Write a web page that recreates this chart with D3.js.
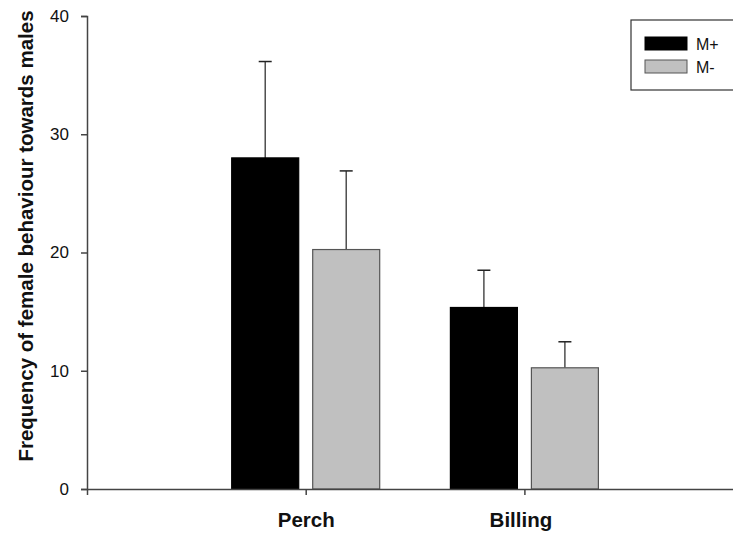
<!DOCTYPE html>
<html>
<head>
<meta charset="utf-8">
<script src="https://cdn.jsdelivr.net/npm/d3@7"></script>
<style>
  body { margin: 0; background: #fff; }
  svg { display: block; font-family: Arial, "Liberation Sans", sans-serif; }
</style>
</head>
<body>
<div id="chart"></div>
<script>
// data
var categories = ["Perch", "Billing"];
var seriesNames = ["M+", "M-"];
var seriesColors = ["#000000", "#c0c0c0"];
var seriesStroke = ["#000000", "#555555"];
var meansMplus = [28.0, 15.35];
var meansMminus = [20.25, 10.25];
var errMplus = [8.15, 3.15];
var errMminus = [6.65, 2.2];
var yTicks = [0, 10, 20, 30, 40];

var width = 733, height = 536;
var margin = {top: 16, left: 87, bottom: 47};
var fontFam = "Arial, 'Liberation Sans', sans-serif";

var svg = d3.select("#chart").append("svg")
    .attr("width", width)
    .attr("height", height);

var yScale = d3.scaleLinear()
    .domain([0, 40])
    .range([height - margin.bottom, margin.top]);

// category positions sit at 1 and 2 on a linear axis that starts at 0
var xScale = d3.scaleLinear()
    .domain([0, 3])
    .range([margin.left, margin.left + 3 * 218.7]);

var barWidth = 67;
var barGap = 14;

var series = [
    {name: seriesNames[0], values: meansMplus, errs: errMplus, fill: seriesColors[0], stroke: seriesStroke[0]},
    {name: seriesNames[1], values: meansMminus, errs: errMminus, fill: seriesColors[1], stroke: seriesStroke[1]}
];

function barLeft(i, s) {
    var c = xScale(i + 1);
    return s === 0 ? c - barGap / 2 - barWidth : c + barGap / 2;
}

var barsGroup = svg.append("g");
series.forEach(function(ser, s) {
    // error bars (upper only)
    var eg = barsGroup.append("g");
    eg.selectAll("line.stem").data(ser.values).enter()
        .append("line")
        .attr("x1", function(d, i) { return barLeft(i, s) + barWidth / 2; })
        .attr("x2", function(d, i) { return barLeft(i, s) + barWidth / 2; })
        .attr("y1", function(d) { return yScale(d); })
        .attr("y2", function(d, i) { return yScale(d + ser.errs[i]); })
        .attr("stroke", "#333")
        .attr("stroke-width", 1.3);
    eg.selectAll("line.cap").data(ser.values).enter()
        .append("line")
        .attr("x1", function(d, i) { return barLeft(i, s) + barWidth / 2 - 6.5; })
        .attr("x2", function(d, i) { return barLeft(i, s) + barWidth / 2 + 6.5; })
        .attr("y1", function(d, i) { return yScale(d + ser.errs[i]); })
        .attr("y2", function(d, i) { return yScale(d + ser.errs[i]); })
        .attr("stroke", "#222")
        .attr("stroke-width", 1.5);

    barsGroup.append("g").selectAll("rect").data(ser.values).enter()
        .append("rect")
        .attr("x", function(d, i) { return barLeft(i, s); })
        .attr("y", function(d) { return yScale(d); })
        .attr("width", barWidth)
        .attr("height", function(d) { return yScale(0) - yScale(d); })
        .attr("fill", ser.fill)
        .attr("stroke", ser.stroke)
        .attr("stroke-width", 1.2);
});

// y axis
var yAxis = svg.append("g")
    .attr("transform", "translate(" + margin.left + ",0)")
    .call(d3.axisLeft(yScale).tickValues(yTicks).tickSize(6).tickPadding(12).tickFormat(d3.format("d")));
yAxis.selectAll("text")
    .attr("font-size", 17)
    .attr("fill", "#111")
    .attr("font-family", fontFam);

// x axis
var xAxis = svg.append("g")
    .attr("transform", "translate(0," + yScale(0) + ")")
    .call(d3.axisBottom(xScale).tickValues([0, 1, 2]).tickSize(6).tickSizeOuter(0)
        .tickFormat(function(d) { return d === 0 ? "" : categories[d - 1]; }));
xAxis.selectAll("text")
    .attr("font-size", 20.5)
    .attr("font-weight", "bold")
    .attr("fill", "#111")
    .attr("font-family", fontFam)
    .attr("dy", 0)
    .attr("y", 38);
xAxis.selectAll(".tick").filter(function(d) { return d === 2; })
    .select("text").attr("x", -4);

svg.selectAll(".domain, .tick line").attr("stroke", "#444").attr("stroke-width", 1.5);

// y axis title
svg.append("text")
    .attr("transform", "translate(33,236) rotate(-90)")
    .attr("text-anchor", "middle")
    .attr("font-size", 20.5)
    .attr("font-weight", "bold")
    .attr("fill", "#111")
    .attr("font-family", fontFam)
    .text("Frequency of female behaviour towards males");

// legend
var legend = svg.append("g").attr("transform", "translate(631,20)");
legend.append("rect")
    .attr("x", 0).attr("y", 0)
    .attr("width", 110).attr("height", 70)
    .attr("fill", "#fff")
    .attr("stroke", "#333")
    .attr("stroke-width", 1.2);
series.forEach(function(ser, s) {
    legend.append("rect")
        .attr("x", 14).attr("y", 17 + s * 23)
        .attr("width", 42).attr("height", 13)
        .attr("fill", ser.fill)
        .attr("stroke", ser.stroke)
        .attr("stroke-width", 1);
    legend.append("text")
        .attr("x", 65).attr("y", 30 + s * 23)
        .attr("font-size", 16)
        .attr("fill", "#111")
        .attr("font-family", fontFam)
        .text(ser.name);
});
</script>
</body>
</html>
